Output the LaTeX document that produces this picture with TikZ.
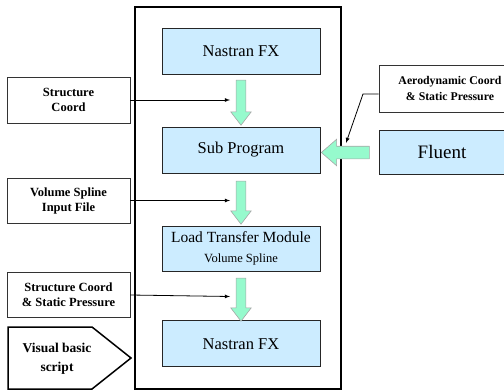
\documentclass[tikz,border=0pt]{standalone}
\usepackage{fontspec}
\setmainfont{Liberation Serif}
\usetikzlibrary{shapes.arrows}
\definecolor{boxblue}{RGB}{204,236,255}
\definecolor{mint}{RGB}{150,250,205}
\tikzset{
  prog/.style={draw=black!85, line width=1pt, fill=boxblue, minimum width=158pt, inner sep=0pt, align=center},
  infile/.style={draw=black!80, line width=0.9pt, fill=white, minimum width=123pt, inner sep=0pt, align=center, font=\bfseries\fontsize{12.5}{15}\selectfont},
  fat/.style={single arrow, draw=gray!70, fill=mint, line width=0.6pt, inner sep=4.6pt, single arrow head extend=5.3pt, single arrow tip angle=75},
  feed/.style={-latex, line width=0.8pt}
}
\begin{document}
\begin{tikzpicture}[x=1pt,y=-1pt]
            \useasboundingbox (0,0) rectangle (504,391);
            % outer frame of the loop
            \draw[line width=1.6pt] (135,7) rectangle (341,389);
            \node[prog, minimum height=46pt, font=\fontsize{16.5}{18}\selectfont] (nas1) at (241,51) {Nastran FX};
            \node[prog, minimum height=46pt, font=\fontsize{16.5}{18}\selectfont] (sub) at (241,150) {Sub Program};
            \node[prog, minimum height=45pt, font=\fontsize{15.5}{20}\selectfont] (ltm) at (241,248.5) {Load Transfer Module\\{\fontsize{12.5}{20}\selectfont Volume Spline}};
            \node[prog, minimum height=46pt, font=\fontsize{16.5}{18}\selectfont] (nas2) at (241,343.7) {Nastran FX};
            % fat arrows between the steps
            \node[fat, rotate=-90, minimum height=45pt] (a1) at (241,99.5) {};
            \node[fat, rotate=-90, minimum height=43pt] (a2) at (241,199.5) {};
            \node[fat, rotate=-90, minimum height=43pt] (a3) at (241,296.5) {};
            % input files on the left
            \node[infile, minimum height=46pt] (sc) at (68.5,100) {Structure\\Coord};
            \node[infile, minimum height=45pt] (vs) at (68.5,200.5) {Volume Spline\\Input File};
            \node[infile, minimum height=45.5pt] (scp) at (68.5,295) {Structure Coord\\\& Static Pressure};
            \coordinate (t1) at (230,100);
            \coordinate (t2) at (230,200.5);
            \coordinate (t3) at (230,296.5);
            \draw[feed] (sc.east) -- (t1);
            \draw[feed] (vs.east) -- (t2);
            \draw[feed] (scp.east) -- (t3);
            % visual basic script
            \draw[line width=1.5pt] (8,327) -- (92,327) -- (131,358) -- (92,389) -- (8,389) -- cycle;
            \node[font=\bfseries\fontsize{13.5}{19}\selectfont, align=center] (vbs) at (57,358.5) {Visual basic\\script};
            % fluent side (boxes run off the right edge)
            \node[infile, minimum width=142pt, minimum height=47pt, font=\bfseries\fontsize{11.8}{16}\selectfont] (aero) at (450,88.5) {Aerodynamic Coord\\\& Static Pressure};
            \node[prog, minimum width=126pt, minimum height=44pt, font=\fontsize{19}{21}\selectfont] (flu) at (442,152) {Fluent};
            \node[fat, rotate=180, minimum height=48pt, inner sep=6pt, single arrow head extend=7pt, single arrow tip angle=82] (a4) at (349,152.5) {};
            \coordinate (bend) at (363,94);
            \coordinate (aerotip) at (346,143);
            \draw[feed] ([yshift=-5.5pt]aero.west) -- (bend) -- (aerotip);
\end{tikzpicture}
\end{document}
